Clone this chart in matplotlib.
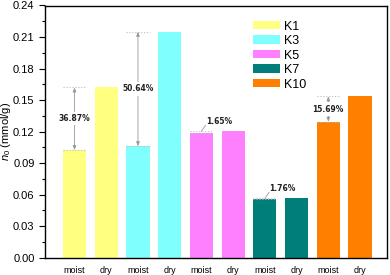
import numpy as np
import matplotlib
matplotlib.use('Agg')
import matplotlib.pyplot as plt
from matplotlib.ticker import MultipleLocator

plt.rcParams['font.family'] = ['Liberation Sans', 'DejaVu Sans']
plt.rcParams['mathtext.fontset'] = 'custom'
plt.rcParams['mathtext.rm'] = 'Liberation Sans'
plt.rcParams['mathtext.it'] = 'Liberation Sans:italic'

groups = ['K1', 'K3', 'K5', 'K7', 'K10']
colors = ['#FFFF80', '#80FFFF', '#FF80FF', '#007F7A', '#FF8000']
moist = [0.1023, 0.1061, 0.1185, 0.0555, 0.1294]
dry = [0.1620, 0.2150, 0.1205, 0.0565, 0.1535]
pct = ['36.87%', '50.64%', '1.65%', '1.76%', '15.69%']
states = ['moist', 'dry']

fig = plt.figure(figsize=(3.9, 2.75), dpi=100)
ax = fig.add_axes([0.1154, 0.063, 0.877, 0.917])

w = 0.73
ticks, labels = [], []
for i, g in enumerate(groups):
    xm, xd = 2 * i + 1, 2 * i + 2
    ax.bar(xm, moist[i], w, color=colors[i], label=g)
    ax.bar(xd, dry[i], w, color=colors[i])
    ticks += [xm, xd]
    labels += states
    # dotted guides at the moist bar
    ax.hlines(dry[i], xm - w / 2, xm + w / 2, colors='#bbbbbb', lw=0.8, linestyles=':')
    ax.hlines(moist[i], xm - w / 2, xm + w / 2, colors='#bbbbbb', lw=0.8, linestyles=':')
    if dry[i] - moist[i] > 0.01:
        ax.annotate('', xy=(xm, dry[i]), xytext=(xm, moist[i]),
                    arrowprops=dict(arrowstyle='<|-|>,head_length=0.25,head_width=0.1',
                                    color='#999999', lw=0.6, shrinkA=0, shrinkB=0))
        ax.text(xm, (dry[i] + moist[i]) / 2, pct[i], ha='center', va='center',
                fontsize=5.5, fontweight='bold', family='DejaVu Sans', color='#222222',
                bbox=dict(facecolor='white', edgecolor='none', pad=1.5))
    else:
        ax.plot([xm, xm + 0.13], [dry[i], dry[i] + 0.0055], color='#999999', lw=0.6)
        ax.text(xm + 0.15, dry[i] + 0.0095, pct[i], ha='left', va='center',
                fontsize=5.5, fontweight='bold', family='DejaVu Sans', color='#222222')

ax.set_xlim(0.07, 10.85)
ax.set_ylim(0, 0.24)
ax.set_xticks(ticks)
ax.set_xticklabels(labels, fontsize=6.5)
ax.tick_params(axis='x', length=0, pad=6)
ax.yaxis.set_major_locator(MultipleLocator(0.03))
ax.yaxis.set_minor_locator(MultipleLocator(0.015))
ax.yaxis.set_major_formatter(matplotlib.ticker.FormatStrFormatter('%.2f'))
ax.tick_params(axis='y', which='major', length=4, width=0.8, labelsize=8)
ax.tick_params(axis='y', which='minor', length=2.5, width=0.8)
for s in ax.spines.values():
    s.set_linewidth(1.0)
ax.set_ylabel('$n_0$ (mmol/g)', fontsize=8)
ax.yaxis.set_label_coords(-0.093, 0.5)

ax.legend(loc='upper left', bbox_to_anchor=(0.576, 0.985), frameon=False, fontsize=9,
          handlelength=2.1, handleheight=0.65, labelspacing=0.2, handletextpad=0.35)

fig.savefig('out.png', dpi=100)
